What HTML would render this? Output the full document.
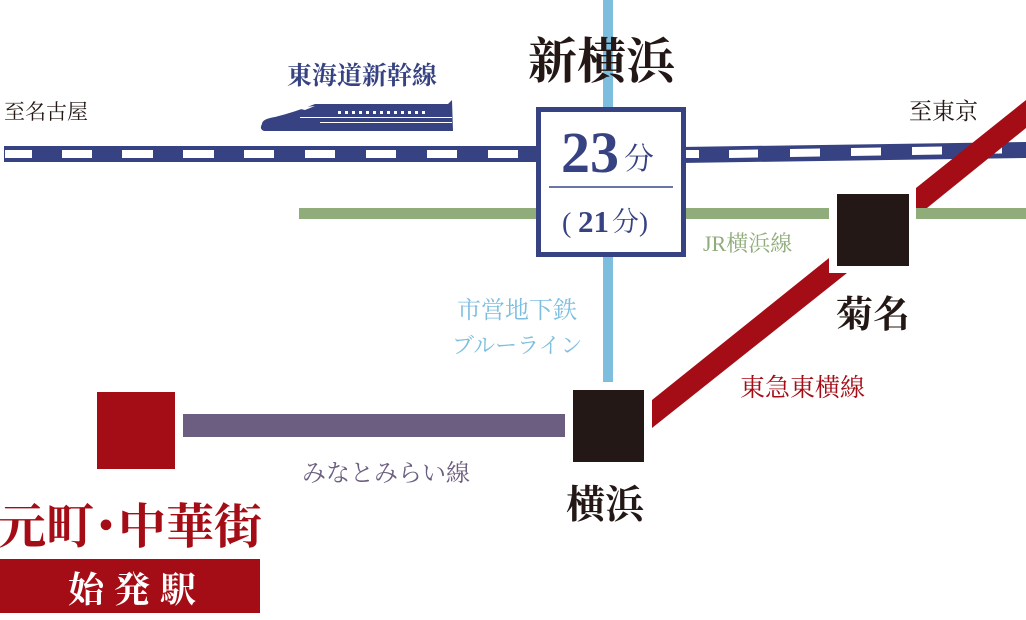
<!DOCTYPE html>
<html><head><meta charset="utf-8"><style>
html,body{margin:0;padding:0;background:#fff;}
svg{display:block;}
text{font-family:"Liberation Serif","Noto Serif CJK SC","Noto Sans CJK JP",serif;}
</style></head><body>
<svg width="1026" height="620" viewBox="0 0 1026 620" xmlns="http://www.w3.org/2000/svg">
<rect x="603" y="0" width="10" height="382" fill="#7dbedf"/>
<rect x="299" y="208" width="530" height="11" fill="#8fac7a"/>
<rect x="916" y="208" width="110" height="11" fill="#8fac7a"/>
<rect x="4" y="146" width="536" height="16" fill="#364281"/>
<polygon points="680,147 1026,142 1026,158 680,163" fill="#364281"/>
<g fill="#fff">
<rect x="5" y="150" width="27" height="8"/>
<rect x="62" y="150" width="30" height="8"/>
<rect x="122" y="150" width="31" height="8"/>
<rect x="183" y="150" width="31" height="8"/>
<rect x="244" y="150" width="30" height="8"/>
<rect x="305" y="150" width="30" height="8"/>
<rect x="366" y="150" width="30" height="8"/>
<rect x="427" y="150" width="30" height="8"/>
<rect x="488" y="150" width="30" height="8"/>
<polygon points="686,150 699,150 699,158 686,158"/>
<polygon points="729,150 758,149.5 758,157.5 729,158"/>
<polygon points="790,149 820,148.5 820,156.5 790,157"/>
<polygon points="851,148 881,147.5 881,155.5 851,156"/>
<polygon points="912,147 942,146.5 942,154.5 912,155"/>
<polygon points="972,146 1002,145.5 1002,153.5 972,154"/>
</g>
<polygon points="652,400 829,258 829,273 847,273 652,428" fill="#a50d16"/>
<polygon points="916,188 1026,100 1026,128 927,208 916,208" fill="#a50d16"/>
<rect x="183" y="414" width="382" height="23" fill="#6b5e80"/>
<rect x="97" y="392" width="78" height="77" fill="#a50d16"/>
<rect x="573" y="390" width="71" height="72" fill="#231815"/>
<rect x="837" y="194" width="72" height="72" fill="#231815"/>
<rect x="538.5" y="109.5" width="145" height="145" fill="#fff" stroke="#364281" stroke-width="5"/>
<rect x="549" y="186" width="124" height="2" fill="#6a76a8"/>
<text x="561" y="172" font-size="58" font-weight="bold" fill="#364281">23</text>
<text x="624" y="169" font-size="30" fill="#364281" font-family="Noto Serif CJK SC, serif">分</text>
<text x="562" y="232" font-size="28" fill="#364281" font-family="Noto Serif CJK SC, serif">(</text>
<text x="578" y="232" font-size="31" fill="#364281" font-weight="bold">21</text>
<text x="612" y="231" font-size="27" fill="#364281" font-family="Noto Serif CJK SC, serif">分)</text>
<g fill="#364281">
<path d="M262,124 Q262,119 275,117 Q295,112 315,104 L448,104 L452,100 L453,131 L264,131 Q259,129 262,124 Z"/>
</g>
<g fill="#fff">
<rect x="338" y="111" width="3" height="3"/><rect x="345" y="111" width="3" height="3"/><rect x="352" y="111" width="3" height="3"/><rect x="359" y="111" width="3" height="3"/><rect x="366" y="111" width="3" height="3"/><rect x="373" y="111" width="3" height="3"/><rect x="380" y="111" width="3" height="3"/><rect x="387" y="111" width="3" height="3"/><rect x="394" y="111" width="3" height="3"/><rect x="401" y="111" width="3" height="3"/><rect x="408" y="111" width="3" height="3"/><rect x="415" y="111" width="3" height="3"/><rect x="422" y="111" width="3" height="3"/>
<path d="M300,117 L452,117 L452,118 L300,118 Z"/>
<path d="M320,122 L452,122 L452,123 L320,123 Z"/>
<path d="M296,108 Q305,107 315,106 L305,110 Z"/>
</g>
<text x="287" y="84" font-size="25" fill="#364281" font-family="Noto Serif CJK SC, serif" font-weight="bold">東海道新幹線</text>
<text x="528" y="78" font-size="49" font-weight="bold" fill="#231815" font-family="Noto Serif CJK SC, serif">新横浜</text>
<text x="4" y="119" font-size="21" fill="#231815" font-family="Noto Serif CJK SC, serif">至名古屋</text>
<text x="909" y="119" font-size="23" fill="#231815" font-family="Noto Serif CJK SC, serif">至東京</text>
<text x="703" y="251" font-size="22" fill="#8fac7a" font-family="Noto Serif CJK SC, serif">JR横浜線</text>
<text x="457" y="318" font-size="24" fill="#7dbedf" font-family="Noto Serif CJK SC, serif">市営地下鉄</text>
<text x="452" y="353" font-size="22" fill="#7dbedf" font-family="Noto Serif CJK SC, serif">ブルーライン</text>
<text x="836" y="327" font-size="37" font-weight="bold" fill="#231815" font-family="Noto Serif CJK SC, serif">菊名</text>
<text x="740" y="396" font-size="25" fill="#a50d16" font-family="Noto Serif CJK SC, serif">東急東横線</text>
<text x="566" y="518" font-size="39" font-weight="bold" fill="#231815" font-family="Noto Serif CJK SC, serif">横浜</text>
<text x="302" y="481" font-size="24" fill="#6b5e80" font-family="Noto Serif CJK SC, serif">みなとみらい線</text>
<text x="-2" y="543" font-size="48" font-weight="bold" fill="#a50d16" font-family="Noto Serif CJK SC, serif">元町･中華街</text>
<rect x="0" y="559" width="260" height="54" fill="#a50d16"/>
<text x="68" y="602" font-size="36" font-weight="bold" fill="#fff" letter-spacing="10" font-family="Noto Serif CJK SC, serif">始発駅</text>
</svg>
</body></html>
